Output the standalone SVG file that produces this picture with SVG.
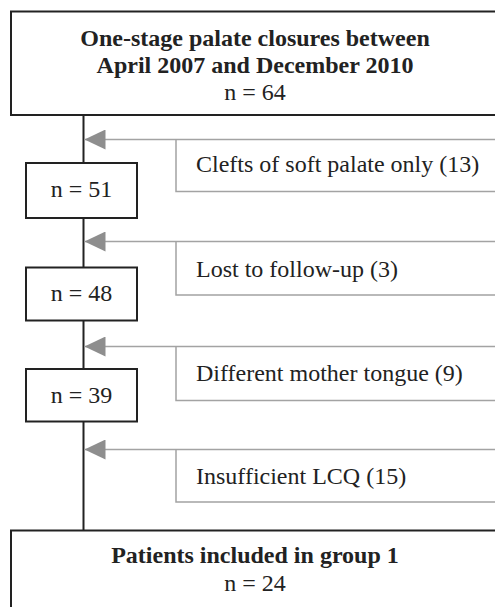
<svg xmlns="http://www.w3.org/2000/svg" width="495" height="607" viewBox="0 0 495 607">
<style>
.box{fill:#fff;stroke:#222;stroke-width:2}
.ex{fill:none;stroke:#a3a3a3;stroke-width:1.5}
.ln{stroke:#222;stroke-width:2;fill:none}
.arr{stroke:#a3a3a3;stroke-width:1.5;fill:none;marker-start:url(#ah)}
text{font-family:"Liberation Serif","Times New Roman",serif;font-size:24px;fill:#222}
.b{font-weight:bold}
.c{text-anchor:middle}
</style>
<defs>
<marker id="ah" viewBox="0 0 21 20" refX="0" refY="10" markerWidth="21" markerHeight="20" markerUnits="userSpaceOnUse" orient="auto">
<path d="M21,0 L0,10 L21,20 Z" fill="#8e8e8e"/>
</marker>
</defs>
<g id="connectors">
<line class="ln" x1="83.5" y1="115" x2="83.5" y2="531"/>
<line class="arr" x1="84.5" y1="139.5" x2="495" y2="139.5"/>
<line class="arr" x1="84.5" y1="241.5" x2="495" y2="241.5"/>
<line class="arr" x1="84.5" y1="346.5" x2="495" y2="346.5"/>
<line class="arr" x1="84.5" y1="449.5" x2="495" y2="449.5"/>
</g>
<g id="top">
<rect class="box" x="11" y="11.5" width="495" height="103.5"/>
<text class="b c" x="255" y="45.5">One-stage palate closures between</text>
<text class="b c" x="255" y="73">April 2007 and December 2010</text>
<text class="c" x="255" y="100">n = 64</text>
</g>
<g id="ex1">
<path class="ex" d="M176,139.5 V191.5 H495"/>
<text x="196" y="172">Clefts of soft palate only (13)</text>
</g>
<g id="n51">
<rect class="box" x="26" y="163" width="111" height="55"/>
<text class="c" x="81.5" y="197">n = 51</text>
</g>
<g id="ex2">
<path class="ex" d="M176,241.5 V295 H495"/>
<text x="196" y="277">Lost to follow-up (3)</text>
</g>
<g id="n48">
<rect class="box" x="26" y="267.5" width="111" height="53"/>
<text class="c" x="81.5" y="301">n = 48</text>
</g>
<g id="ex3">
<path class="ex" d="M176,346.5 V400.5 H495"/>
<text x="196" y="380.5">Different mother tongue (9)</text>
</g>
<g id="n39">
<rect class="box" x="26" y="369" width="111" height="52.5"/>
<text class="c" x="81.5" y="403">n = 39</text>
</g>
<g id="ex4">
<path class="ex" d="M176,449.5 V502 H495"/>
<text x="196" y="483.5">Insufficient LCQ (15)</text>
</g>
<g id="bottom">
<rect class="box" x="11" y="530.5" width="495" height="90"/>
<text class="b c" x="255" y="563">Patients included in group 1</text>
<text class="c" x="255" y="591">n = 24</text>
</g>
</svg>
